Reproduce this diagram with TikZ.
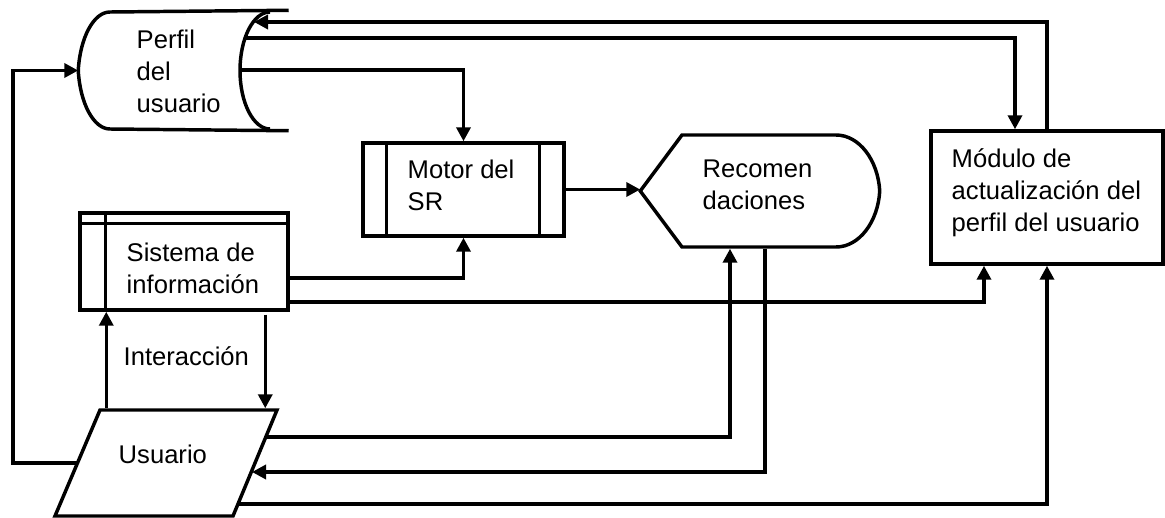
\documentclass[tikz,border=0pt]{standalone}
\usepackage{fontspec}
\setmainfont{Liberation Sans}
\usetikzlibrary{arrows.meta,calc}
\begin{document}
\begin{tikzpicture}[x=0.75pt,y=-0.75pt,
  line width=2.6pt, line join=miter,
  arr/.style={-{Triangle[length=10.5pt,width=10.5pt]}},
  box/.style={draw, rectangle, inner sep=0pt},
  area/.style={rectangle, inner sep=0pt},
  txt/.style={inner sep=0pt, anchor=base west, align=left, font=\fontsize{19.2}{24}\selectfont}]
\useasboundingbox (0,0) rectangle (1165,518);
\fill[white] (0,0) rectangle (1165,518);

% shape nodes
\node[area, minimum width=155.25pt, minimum height=87.75pt] (perfil) at (183.5,70.5) {};
\node[box, minimum width=150.75pt, minimum height=69.75pt] (motor) at (463.5,189.5) {};
\node[box, minimum width=156pt, minimum height=72.75pt] (sistema) at (184,261.5) {};
\node[area, minimum width=177pt, minimum height=84pt] (rec) at (760,191) {};
\node[box, minimum width=174pt, minimum height=99.75pt] (modulo) at (1047,197.5) {};
\node[area, minimum width=166.5pt, minimum height=79.5pt] (usuario) at (166,463) {};

% Perfil del usuario (stored data)
\draw (perfil.north east) -- (110,12) .. controls (93.4,12) and (80,38.2) .. (perfil.west)
  .. controls (80,102.8) and (93.4,129) .. (110,129) -- (perfil.south east);
\draw (270,12) .. controls (253.4,12) and (240,38.2) .. (240,70.5)
  .. controls (240,102.8) and (253.4,129) .. (270,129);

% Motor inner lines
\draw ($(motor.north west)+(25,0)$) -- ($(motor.south west)+(25,0)$);
\draw ($(motor.north east)+(-26,0)$) -- ($(motor.south east)+(-26,0)$);

% Sistema inner lines
\draw ($(sistema.north west)+(0,12)$) -- ($(sistema.north east)+(0,12)$);
\draw ($(sistema.north west)+(27,0)$) -- ($(sistema.south west)+(27,0)$);

% Recomendaciones (display)
\draw (rec.west) -- (682,135) -- (836,135) .. controls (859.2,135) and (878,160.1) .. (rec.east)
  .. controls (878,221.9) and (859.2,247) .. (836,247) -- (682,247) -- cycle;

% Usuario (parallelogram)
\draw (100,410) -- (277,410) -- (233,516) -- (55,516) -- cycle;

% texts (base anchor = baseline of last line)
\node[txt] (perfilT) at (135,112) {Perfil\\del\\usuario};
\node[txt] (motorT) at (406,210) {Motor del\\SR};
\node[txt] (recT) at (701,209) {Recomen\\daciones};
\node[txt] (moduloT) at (950,231) {Módulo de\\actualización del\\perfil del usuario};
\node[txt] (sistemaT) at (125,293) {Sistema de\\información};
\node[txt] (interT) at (122,365) {Interacción};
\node[txt] (usuarioT) at (117,463) {Usuario};

% helper coordinates on curved / slanted edges
\coordinate (pR1) at (254,22);
\coordinate (pR2) at (245,38);
\coordinate (pR3) at (240,70);
\coordinate (uR1) at (265.5,437);
\coordinate (uR2) at (252,472);
\coordinate (uR3) at (237,504);
\coordinate (uL) at (77.5,463);
\coordinate (lft) at (13,70.5);

% connectors
\draw[arr] (modulo.north) |- (pR1);
\draw[arr] (pR2) -| ($(modulo.north)+(-32,0)$);
\draw[arr] (pR3) -| (motor.north);
\draw[arr] ($(sistema.east)+(0,16.5)$) -| (motor.south);
\draw[arr] (motor.east) -- (motor.east -| rec.west);
\draw[arr] ($(sistema.east)+(0,40.5)$) -| ($(modulo.south)+(-63,0)$);
\draw[arr] ($(usuario.north west)+(53,0)$) -- ($(sistema.south west)+(28,0)$);
\draw[arr] ($(sistema.south west)+(187,3)$) -- ($(usuario.north west)+(212,0)$);
\draw[arr] (uR1) -| ($(rec.south)+(-30,0)$);
\draw[arr] ($(rec.south)+(5,0)$) |- (uR2);
\draw[arr] (uR3) -| (modulo.south);
\draw[arr] (uL) -| (lft) -- (perfil.west);
\end{tikzpicture}
\end{document}
